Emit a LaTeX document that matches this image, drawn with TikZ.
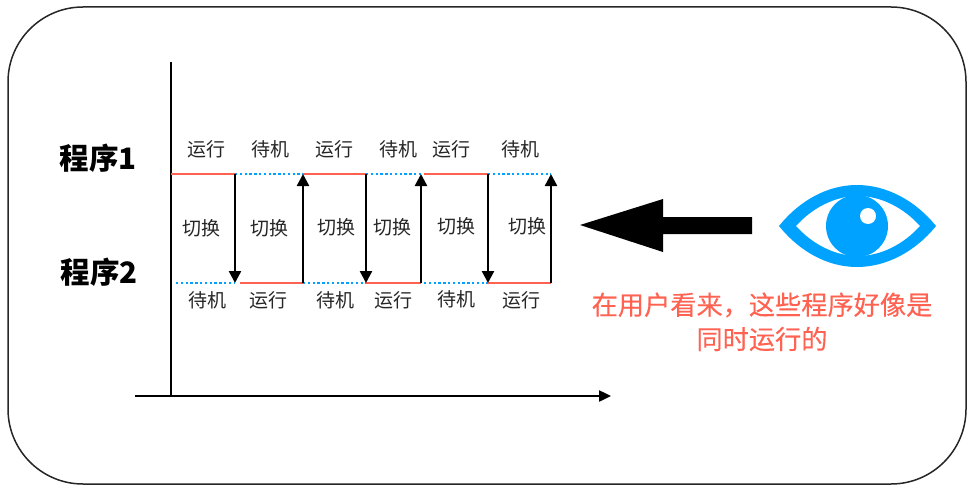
\documentclass[tikz,border=0pt]{standalone}
\usepackage{fontspec}
\setmainfont{Noto Sans CJK SC}
\newfontfamily\notefont[FakeBold=0.25]{Noto Sans CJK SC}
\usetikzlibrary{arrows.meta}
\definecolor{rd}{HTML}{FF6251}
\definecolor{bl}{HTML}{00A2FF}
\tikzset{
 x=1pt,y=-1pt,
 lbl/.style={font=\fontsize{19}{19}\selectfont,inner sep=0pt,text=black!85},
 prog/.style={font=\fontsize{29.5}{30}\selectfont\bfseries,inner sep=0pt},
 note/.style={font=\notefont\fontsize{26.2}{26.2}\selectfont,inner sep=0pt,text=rd},
 run/.style={draw=rd,line width=2.4pt},
 idle/.style={draw=bl,line width=2.4pt,dash pattern=on 2.4pt off 2.4pt},
 sw/.style={draw=black,line width=2.5pt,-{Triangle[length=12pt,width=12pt]}},
 axis/.style={draw=black,line width=2.4pt},
}
\begin{document}
\begin{tikzpicture}
\useasboundingbox (0,0) rectangle (974,492);
\draw[draw=black!85,line width=1.5pt,rounded corners=75pt] (8,7) rectangle (966,484);
% axes
\coordinate (ytop) at (171,62); \coordinate (ybot) at (171,396);
\coordinate (xl) at (135,396); \coordinate (xr) at (611,396);
\draw[axis] (ytop) -- (ybot);
\draw[axis,-{Triangle[length=12pt,width=11pt]}] (xl) -- (xr);
% top / bottom coordinates
\foreach \n/\x in {a/235,b/303,c/366,d/421,e/488,f/551}{
  \coordinate (t\n) at (\x,174); \coordinate (u\n) at (\x,283);}
\coordinate (t0) at (171,174); \coordinate (u0) at (176,283);
\coordinate (ua2) at (240,283); \coordinate (te2) at (424,174); \coordinate (ue2) at (424,283);
\draw[run] (t0) -- (ta); \draw[run] (tb) -- (tc); \draw[run] (te2) -- (te);
\draw[idle] (ta) -- (tb); \draw[idle] (tc) -- (td); \draw[idle] (te) -- (tf);
\draw[idle] (u0) -- (ua); \draw[idle] (ub) -- (uc); \draw[idle] (ue2) -- (ue);
\draw[run] (ua2) -- (ub); \draw[run] (uc) -- (ud); \draw[run] (ue) -- (uf);
\draw[sw] (ta) -- (ua);
\draw[sw] (ub) -- (tb);
\draw[sw] (tc) -- (uc);
\draw[sw] (ud) -- (td);
\draw[sw] (te) -- (ue);
\draw[sw] (uf) -- (tf);
% labels
\node[prog] (p1) at (98,158) {程序1};
\node[prog] (p2) at (99,272) {程序2};
\node[lbl] (l1) at (206,149) {运行};
\node[lbl] (l2) at (270,149) {待机};
\node[lbl] (l3) at (334,149) {运行};
\node[lbl] (l4) at (398,149) {待机};
\node[lbl] (l5) at (451,149) {运行};
\node[lbl] (l6) at (520,149) {待机};
\node[lbl] (m1) at (201,228) {切换};
\node[lbl] (m2) at (269,228) {切换};
\node[lbl] (m3) at (336,227) {切换};
\node[lbl] (m4) at (392,227) {切换};
\node[lbl] (m5) at (456,226) {切换};
\node[lbl] (m6) at (527,226) {切换};
\node[lbl] (b1) at (207,300) {待机};
\node[lbl] (b2) at (268,300) {运行};
\node[lbl] (b3) at (335,300) {待机};
\node[lbl] (b4) at (393,300) {运行};
\node[lbl] (b5) at (456,299) {待机};
\node[lbl] (b6) at (521,300) {运行};
% big arrow
\fill[black] (580,225) -- (663,199) -- (663,217) -- (752,217) -- (752,234) -- (663,234) -- (663,252) -- cycle;
% eye
\fill[bl,even odd rule] (779,226) .. controls (800,200) and (828,185) .. (857,185) .. controls (886,185) and (915,200) .. (936,226) .. controls (915,252) and (886,267) .. (857,267) .. controls (828,267) and (800,252) .. (779,226) -- cycle
 (796,226) .. controls (812,208) and (835,196) .. (858,196) .. controls (881,196) and (904,208) .. (920,226) .. controls (904,244) and (881,256) .. (858,256) .. controls (835,256) and (812,244) .. (796,226) -- cycle;
\fill[bl] (857,226) circle[radius=31pt];
\fill[white] (868,216) circle[radius=8pt];
% note
\node[note] (n1) at (762,305) {在用户看来，这些程序好像是};
\node[note] (n2) at (762,339) {同时运行的};
\end{tikzpicture}
\end{document}
